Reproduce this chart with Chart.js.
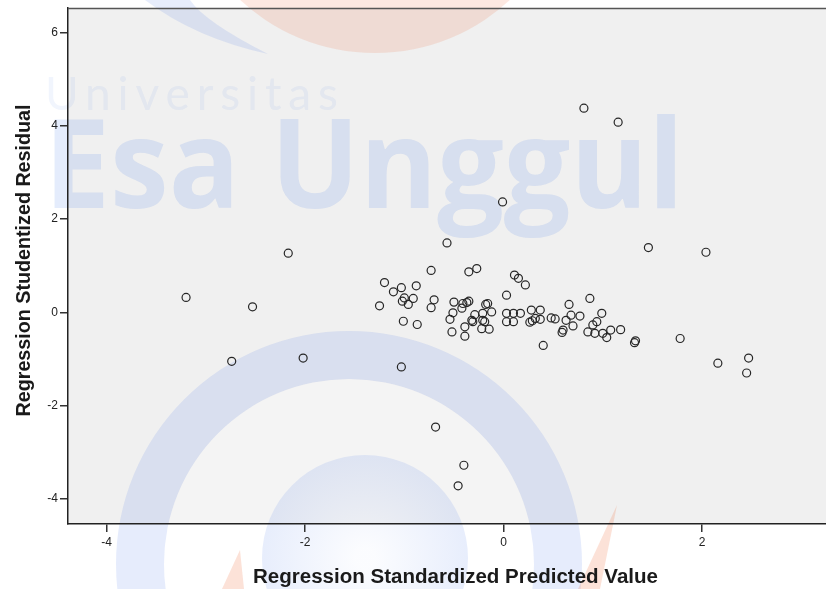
<!DOCTYPE html>
<html>
<head>
<meta charset="utf-8">
<script src="https://cdn.jsdelivr.net/npm/chart.js@4.4.1/dist/chart.umd.min.js"></script>
<style>
  html, body { margin: 0; padding: 0; background: #fff; }
  #wrap { width: 826px; height: 589px; }
</style>
</head>
<body>
<div id="wrap"><canvas id="chart" width="826" height="589"></canvas></div>
<script>
// Regression Standardized Predicted Value (x) / Studentized Residual (y)
const predicted = [
  -3.20, -2.74, -2.53, -2.17, -2.02, -1.03, -0.685, -0.40, -0.458, -0.01,
  -0.57, 0.81, 1.155, 1.46, 2.04, 1.78, 2.16, 2.47, 2.45, 0.40,
  -1.25, -1.20, -1.11, -1.03, -0.88, -1.02, -0.96, -0.91, -1.00, -1.01,
  -0.87, -0.73, -0.70, -0.73,
  -0.35, -0.27, -0.50, -0.41, -0.35, -0.42, -0.37, -0.51, -0.54, -0.52,
  -0.39, -0.39, -0.32, -0.29, -0.31, -0.18, -0.16, -0.12, -0.21, -0.21,
  -0.19, -0.22, -0.145, 0.03, 0.11, 0.15, 0.22, 0.03, 0.03, 0.10,
  0.10, 0.17, 0.28, 0.37, 0.265, 0.29, 0.32, 0.37, 0.48, 0.52,
  0.66, 0.87, 0.63, 0.68, 0.77, 0.70, 0.60, 0.59, 0.99, 0.94,
  0.90, 0.85, 0.92, 1.00, 1.04, 1.08, 1.18, 1.32, 1.33
];
const residual = [
  0.32, -1.05, 0.12, 1.27, -0.98, -1.17, -2.46, -3.28, -3.72, 2.37,
  1.49, 4.38, 4.08, 1.39, 1.29, -0.56, -1.09, -0.98, -1.30, -0.71,
  0.14, 0.64, 0.44, 0.53, 0.57, 0.24, 0.17, 0.30, 0.31, -0.19,
  -0.26, 0.90, 0.27, 0.10,
  0.87, 0.94, 0.22, 0.19, 0.24, 0.09, 0.21, -0.01, -0.15, -0.42,
  -0.31, -0.51, -0.17, -0.05, -0.20, 0.17, 0.19, 0.01, -0.02, -0.17,
  -0.20, -0.35, -0.36, 0.37, 0.80, 0.73, 0.59, -0.02, -0.20, -0.02,
  -0.20, -0.02, 0.05, 0.05, -0.21, -0.18, -0.13, -0.15, -0.12, -0.14,
  0.17, 0.30, -0.17, -0.06, -0.08, -0.29, -0.38, -0.43, -0.02, -0.20,
  -0.27, -0.42, -0.45, -0.45, -0.54, -0.38, -0.37, -0.65, -0.61
];
const xTicks = [-4, -2, 0, 2];
const yTicks = [-4, -2, 0, 2, 4, 6];
const xTitle = 'Regression Standardized Predicted Value';
const yTitle = 'Regression Studentized Residual';

// background, plot fill and the faint university watermark
const backdrop = {
  id: 'backdrop',
  beforeDraw(chart) {
    const ctx = chart.ctx;
    const a = chart.chartArea;
    ctx.save();
    ctx.fillStyle = '#ffffff';
    ctx.fillRect(0, 0, chart.width, chart.height);
    ctx.fillStyle = '#f0f0f0';
    ctx.fillRect(a.left, a.top, a.right - a.left, a.bottom - a.top);

    // orange disc at the top
    ctx.fillStyle = 'rgba(235,110,70,0.16)';
    ctx.beginPath();
    ctx.arc(375, -145, 198, 0, Math.PI * 2);
    ctx.fill();

    // blue swoosh top left
    ctx.fillStyle = 'rgba(60,110,230,0.12)';
    ctx.beginPath();
    ctx.moveTo(145, 0);
    ctx.quadraticCurveTo(195, 38, 268, 54);
    ctx.quadraticCurveTo(205, 22, 190, 0);
    ctx.closePath();
    ctx.fill();

    // "Universitas"
    ctx.fillStyle = 'rgba(60,110,230,0.07)';
    ctx.font = '46px Lato, "Open Sans", sans-serif';
    ctx.textBaseline = 'alphabetic';
    ctx.letterSpacing = '0px';
    let w = ctx.measureText('Universitas').width;
    ctx.letterSpacing = Math.max(0, (293 - w) / 10) + 'px';
    ctx.fillText('Universitas', 45, 110);
    ctx.letterSpacing = '0px';

    // "Esa Unggul"
    ctx.fillStyle = 'rgba(50,110,235,0.13)';
    ctx.font = 'bold 124px "Open Sans", sans-serif';
    w = ctx.measureText('Esa Unggul').width;
    ctx.save();
    ctx.translate(44, 208);
    ctx.scale(640 / w, 1);
    ctx.fillText('Esa Unggul', 0, 0);
    ctx.restore();

    // blue ring at the bottom
    ctx.fillStyle = 'rgba(60,110,230,0.13)';
    ctx.beginPath();
    ctx.arc(349, 564, 233, 0, Math.PI * 2);
    ctx.arc(349, 564, 185, 0, Math.PI * 2, true);
    ctx.fill();
    ctx.fillStyle = 'rgba(255,255,255,0.25)';
    ctx.beginPath();
    ctx.arc(349, 564, 185, 0, Math.PI * 2);
    ctx.fill();

    // inner disc
    const g = ctx.createRadialGradient(365, 558, 10, 365, 558, 103);
    g.addColorStop(0, 'rgba(60,110,230,0.02)');
    g.addColorStop(1, 'rgba(60,110,230,0.12)');
    ctx.fillStyle = g;
    ctx.beginPath();
    ctx.arc(365, 558, 103, 0, Math.PI * 2);
    ctx.fill();

    // orange spikes
    ctx.fillStyle = 'rgba(240,110,60,0.2)';
    ctx.beginPath();
    ctx.moveTo(578, 589); ctx.lineTo(617, 505); ctx.lineTo(600, 589);
    ctx.closePath(); ctx.fill();
    ctx.beginPath();
    ctx.moveTo(222, 589); ctx.lineTo(240, 550); ctx.lineTo(244, 589);
    ctx.closePath(); ctx.fill();
    ctx.restore();
  },
  afterDraw(chart) {
    const ctx = chart.ctx;
    const a = chart.chartArea;
    ctx.save();
    // top frame line
    ctx.strokeStyle = '#555';
    ctx.lineWidth = 1.5;
    ctx.beginPath();
    ctx.moveTo(a.left, a.top + 0.5);
    ctx.lineTo(a.right, a.top + 0.5);
    ctx.stroke();

    ctx.fillStyle = '#1a1a1a';
    ctx.textAlign = 'left';
    ctx.textBaseline = 'alphabetic';
    ctx.font = 'bold 20px "Liberation Sans", Arial, sans-serif';
    let w = ctx.measureText(xTitle).width;
    ctx.save();
    ctx.translate(253, 582.5);
    ctx.scale(405 / w, 1);
    ctx.fillText(xTitle, 0, 0);
    ctx.restore();

    w = ctx.measureText(yTitle).width;
    ctx.save();
    ctx.translate(29.5, 416.5);
    ctx.rotate(-Math.PI / 2);
    ctx.scale(312 / w, 1);
    ctx.fillText(yTitle, 0, 0);
    ctx.restore();
    ctx.restore();
  }
};

const tickFont = { family: '"Liberation Sans", Arial, sans-serif', size: 12 };

new Chart(document.getElementById('chart'), {
  type: 'scatter',
  data: {
    datasets: [{
      data: predicted.map((x, i) => ({ x: x, y: residual[i] })),
      pointRadius: 4,
      pointHoverRadius: 4,
      pointBorderWidth: 1.2,
      borderColor: '#262626',
      backgroundColor: 'rgba(0,0,0,0)'
    }]
  },
  options: {
    responsive: false,
    animation: false,
    layout: { autoPadding: false, padding: { top: 8, right: 0, left: 0, bottom: 0 } },
    plugins: {
      legend: { display: false },
      tooltip: { enabled: false }
    },
    scales: {
      x: {
        type: 'linear',
        min: -4.39,
        max: 3.25,
        afterBuildTicks: s => { s.ticks = xTicks.map(v => ({ value: v })); },
        afterFit: s => { s.height = 65; s.paddingLeft = 0; s.paddingRight = 0; },
        grid: { drawOnChartArea: false, drawTicks: true, tickLength: 8, color: '#333', lineWidth: 1.5 },
        border: { display: true, color: '#222', width: 1.5 },
        ticks: { color: '#222', font: tickFont, padding: 3, maxRotation: 0 }
      },
      y: {
        type: 'linear',
        min: -4.54,
        max: 6.53,
        afterBuildTicks: s => { s.ticks = yTicks.map(v => ({ value: v })); },
        afterFit: s => { s.width = 68; s.paddingTop = 0; s.paddingBottom = 0; },
        grid: { drawOnChartArea: false, drawTicks: true, tickLength: 8, color: '#333', lineWidth: 1.5 },
        border: { display: true, color: '#222', width: 1.5 },
        ticks: { color: '#222', font: tickFont, padding: 2 }
      }
    }
  },
  plugins: [backdrop]
});
</script>
</body>
</html>
